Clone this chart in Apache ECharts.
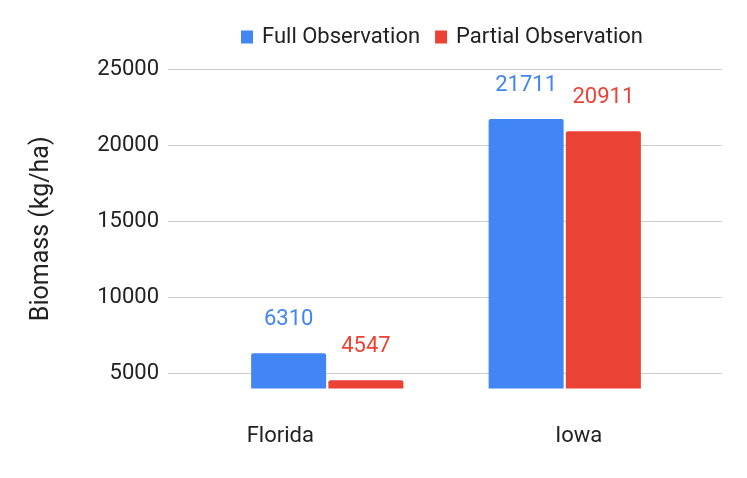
<!DOCTYPE html>
<html>
<head>
<meta charset="utf-8">
<style>
  html, body { margin: 0; padding: 0; background: #fff; }
  #chart { width: 747px; height: 478px; }
</style>
<script src="https://cdn.jsdelivr.net/npm/echarts@6/dist/echarts.min.js"></script>
</head>
<body>
<div id="chart"></div>
<script>
// data
var categories = ['Florida', 'Iowa'];
var fullObs = [6310, 21711];
var partialObs = [4547, 20911];
var seriesNames = ['Full Observation', 'Partial Observation'];
var yMin = 4000, yMax = 25000;

var FONT = 'Roboto, Arial, sans-serif';
var myChart = echarts.init(document.getElementById('chart'));

var option = {
    backgroundColor: '#fff',
    color: ['#4285F4', '#EA4335'],
    textStyle: { fontFamily: FONT },
    legend: {
        data: seriesNames,
        left: 236,
        top: 21,
        itemWidth: 12,
        itemHeight: 13,
        itemGap: 15,
        icon: 'rect',
        textStyle: { fontSize: 22, color: '#222', fontFamily: FONT, padding: [0, 0, 0, 4] }
    },
    // grid 0: full width grid lines and y labels, grid 1: the bars
    grid: [
        { left: 168, right: 25, top: 69, bottom: 89.5 },
        { left: 208.5, right: 63.5, top: 69, bottom: 89.5 }
    ],
    xAxis: [
        { type: 'value', gridIndex: 0, min: 0, max: 1, show: false },
        {
            type: 'category',
            gridIndex: 1,
            data: categories,
            axisLine: { show: false },
            axisTick: { show: false },
            axisLabel: {
                margin: 37,
                fontSize: 22,
                color: '#222',
                fontFamily: FONT,
                formatter: function(value, index) {
                    return index === 0 ? '{f|' + value + '}' : '{i|' + value + '}';
                },
                rich: {
                    f: { fontSize: 22, color: '#222', fontFamily: FONT, padding: [0, 94, 0, 0] },
                    i: { fontSize: 22, color: '#222', fontFamily: FONT, padding: [0, 0, 0, 28] }
                }
            }
        }
    ],
    yAxis: [
        {
            type: 'value',
            gridIndex: 0,
            min: yMin,
            max: yMax,
            name: 'Biomass (kg/ha)',
            nameLocation: 'middle',
            nameGap: 114,
            nameTextStyle: { fontSize: 25, color: '#222', fontFamily: FONT },
            axisLine: { show: false },
            axisTick: { show: false },
            axisLabel: {
                fontSize: 22,
                color: '#222',
                fontFamily: FONT,
                margin: 9,
                showMinLabel: false,
                formatter: function(v) { return v % 5000 === 0 ? String(v) : ''; }
            },
            splitLine: { show: true, showMinLine: false, lineStyle: { color: '#cccccc', width: 1 } }
        },
        { type: 'value', gridIndex: 1, min: yMin, max: yMax, show: false, splitLine: { show: false } }
    ],
    series: [
        {
            name: seriesNames[0],
            type: 'bar',
            xAxisIndex: 1,
            yAxisIndex: 1,
            data: fullObs,
            barWidth: 75,
            barGap: '3%',
            itemStyle: { borderRadius: [2, 2, 0, 0] },
            label: { show: true, position: 'top', distance: 23, fontSize: 22, color: '#4285F4', fontFamily: FONT }
        },
        {
            name: seriesNames[1],
            type: 'bar',
            xAxisIndex: 1,
            yAxisIndex: 1,
            data: partialObs,
            barWidth: 75,
            barGap: '3%',
            itemStyle: { borderRadius: [2, 2, 0, 0] },
            label: { show: true, position: 'top', distance: 23, fontSize: 22, color: '#EA4335', fontFamily: FONT }
        }
    ]
};

myChart.setOption(option);
</script>
</body>
</html>
